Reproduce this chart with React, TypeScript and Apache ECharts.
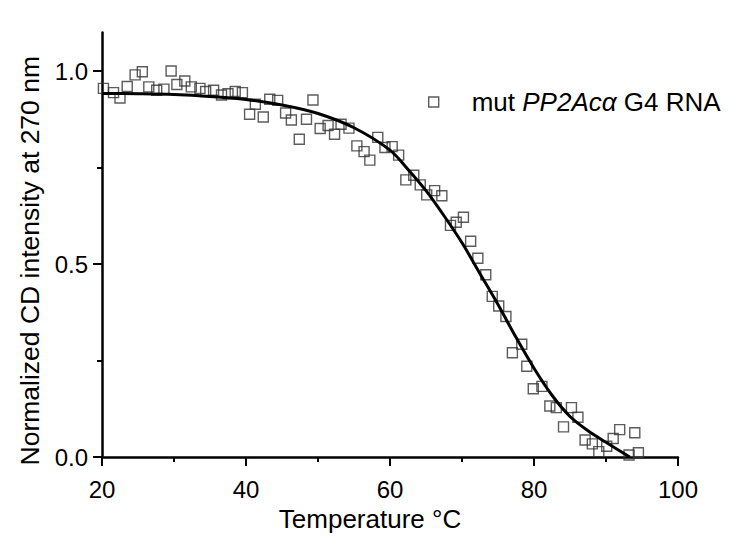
import React, { useEffect, useRef } from "react";
import * as echarts from "echarts";

// Scatter data: temperature (°C) and normalized CD intensity
const temps: number[] = [
  20.2, 21.6, 22.5, 23.5, 24.6, 25.6, 26.5, 27.6, 28.6, 29.6,
  30.4, 31.5, 32.4, 33.6, 34.4, 35.5, 36.6, 37.5, 38.5, 39.5,
  40.5, 41.3, 42.4, 43.3, 44.4, 45.5, 46.3, 47.4, 48.4, 49.3,
  50.3, 51.4, 52.3, 53.2, 54.3, 55.4, 56.4, 57.2, 58.3, 59.3,
  60.3, 61.2, 62.2, 63.3, 64.2, 65.1, 66.2, 67.2, 68.4, 69.2,
  70.2, 71.2, 72.2, 73.3, 74.2, 75.1, 76.1, 77.0, 78.3, 79.0,
  79.9, 81.1, 82.2, 83.1, 84.1, 85.2, 86.1, 87.1, 88.1, 89.0,
  90.1, 91.0, 91.9, 93.2, 94.0, 94.5,
];
const intensities: number[] = [
  0.955, 0.944, 0.93, 0.96, 0.99, 0.998, 0.959, 0.95, 0.953, 1.0,
  0.965, 0.974, 0.959, 0.955, 0.947, 0.95, 0.938, 0.941, 0.947, 0.944,
  0.888, 0.914, 0.881, 0.927, 0.924, 0.891, 0.873, 0.823, 0.875, 0.925,
  0.851, 0.859, 0.836, 0.862, 0.852, 0.806, 0.791, 0.769, 0.828, 0.802,
  0.804, 0.782, 0.718, 0.73, 0.705, 0.679, 0.69, 0.677, 0.6, 0.608,
  0.621, 0.559, 0.515, 0.472, 0.416, 0.391, 0.364, 0.27, 0.292, 0.235,
  0.177, 0.183, 0.132, 0.128, 0.078, 0.128, 0.103, 0.044, 0.034, 0.014,
  0.028, 0.048, 0.071, 0.005, 0.063, 0.011,
];

// Fitted curve
const fitTemps: number[] = [
  20, 25, 30, 35, 40, 45, 50, 55, 60, 62.5, 65, 67.5, 70, 72.5, 75,
  77.5, 80, 82.5, 85, 87.5, 90, 93.3,
];
const fitValues: number[] = [
  0.942, 0.941, 0.939, 0.934, 0.926, 0.912, 0.89, 0.853, 0.795, 0.745,
  0.69, 0.625, 0.555, 0.475, 0.395, 0.31, 0.23, 0.16, 0.105, 0.068,
  0.038, 0.0,
];

const xTicks = [20, 40, 60, 80, 100];
const yMajorTicks = [0, 0.5, 1.0];
const yMinorTicks = [0.25, 0.75];

const seriesName = "mut PP2Acα G4 RNA";

export default function App() {
  const ref = useRef<HTMLDivElement>(null);

  useEffect(() => {
    if (!ref.current) return;
    const chart = echarts.init(ref.current, undefined, { renderer: "svg" });
    const font = "'Liberation Sans', Arial, sans-serif";
    const black = "#000";

    chart.setOption({
      animation: false,
      backgroundColor: "#fff",
      textStyle: { fontFamily: font },
      grid: { left: 102, right: 67, top: 32.4, bottom: 91 },
      legend: {
        left: 423,
        top: 84,
        itemWidth: 10,
        itemHeight: 10,
        data: [
          {
            name: seriesName,
            icon: "rect",
            itemStyle: { color: "transparent", borderColor: "#333", borderWidth: 1.4 },
          },
        ],
        formatter: () => "{sp|}mut {it|PP2Acα} G4 RNA",
        textStyle: {
          fontSize: 26,
          color: black,
          fontFamily: font,
          rich: {
            sp: { width: 28, fontSize: 26 },
            it: { fontStyle: "italic", fontSize: 26, fontFamily: font, color: black },
          },
        },
      },
      xAxis: {
        type: "value",
        min: xTicks[0],
        max: xTicks[xTicks.length - 1],
        interval: 20,
        name: "Temperature °C",
        nameLocation: "middle",
        nameGap: 49,
        nameTextStyle: { fontSize: 26, color: black, fontFamily: font, padding: [0, 40, 0, 0] },
        axisLine: { show: true, onZero: false, lineStyle: { color: black, width: 2.5 } },
        axisTick: { show: true, length: 9, lineStyle: { color: black, width: 2 } },
        minorTick: { show: true, splitNumber: 2, length: 5, lineStyle: { color: black, width: 2 } },
        axisLabel: { fontSize: 24, color: black, margin: 20, fontFamily: font },
        splitLine: { show: false },
      },
      yAxis: [
        {
          type: "value",
          min: 0,
          max: 1.1,
          name: "Normalized CD intensity at 270 nm",
          nameLocation: "middle",
          nameGap: 55,
          nameTextStyle: { fontSize: 26.5, color: black, fontFamily: font, padding: [0, 32, 0, 0] },
          axisLine: { show: true, onZero: false, lineStyle: { color: black, width: 2.5 } },
          axisTick: { show: true, length: 9, customValues: yMajorTicks, lineStyle: { color: black, width: 2 } },
          axisLabel: {
            fontSize: 24,
            color: black,
            margin: 14,
            fontFamily: font,
            customValues: yMajorTicks,
            formatter: (v: number) => v.toFixed(1),
          },
          splitLine: { show: false },
        },
        {
          type: "value",
          min: 0,
          max: 1.1,
          position: "left",
          axisLine: { show: false },
          axisTick: { show: true, length: 5, customValues: yMinorTicks, lineStyle: { color: black, width: 2 } },
          axisLabel: { show: false },
          splitLine: { show: false },
        },
      ],
      series: [
        {
          name: seriesName,
          type: "scatter",
          symbol: "rect",
          symbolSize: 10,
          itemStyle: { color: "transparent", borderColor: "#333", borderWidth: 1.4 },
          data: temps.map((t, i) => [t, intensities[i]]),
          z: 2,
        },
        {
          name: "fit",
          type: "line",
          showSymbol: false,
          symbol: "none",
          smooth: 0.3,
          lineStyle: { color: black, width: 3 },
          data: fitTemps.map((t, i) => [t, fitValues[i]]),
          z: 3,
        },
      ],
    });

    return () => chart.dispose();
  }, []);

  return (
    <div
      ref={ref}
      style={{ position: "absolute", left: 0, top: 0, width: 745, height: 548, background: "#fff" }}
    />
  );
}
